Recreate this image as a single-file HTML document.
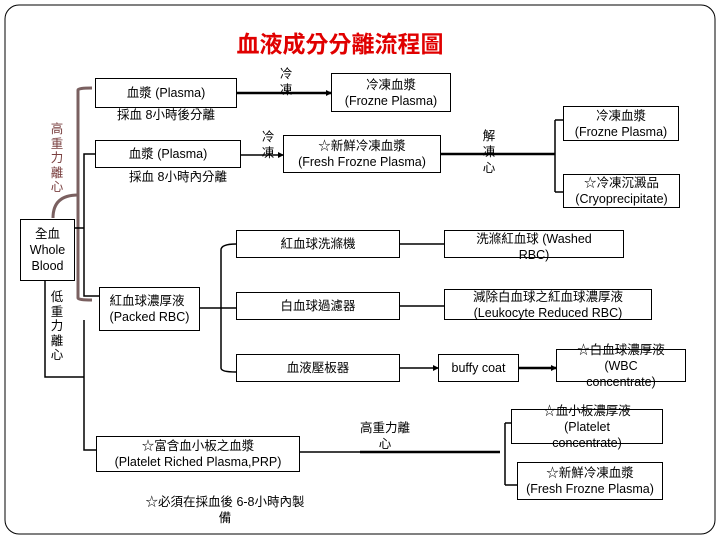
<!DOCTYPE html>
<html><head><meta charset="utf-8"><style>
body{margin:0;width:720px;height:540px;background:#fff;overflow:hidden;position:relative;font-family:"Liberation Sans","Noto Sans CJK TC",sans-serif;}
.b{position:absolute;border:1px solid #000;background:#fff;box-sizing:border-box;display:flex;align-items:center;justify-content:center;text-align:center;font-size:12.5px;line-height:16px;}
.t{position:absolute;font-size:12.5px;line-height:16px;text-align:center;}
svg{position:absolute;left:0;top:0;}
</style></head><body>
<svg width="720" height="540">
<defs><marker id="a" markerWidth="6" markerHeight="6" refX="5" refY="3" orient="auto" markerUnits="userSpaceOnUse"><path d="M0 0 L6 3 L0 6 z" fill="#000"/></marker></defs>
<rect x="5" y="5" width="710" height="529" rx="14" fill="none" stroke="#000" stroke-width="1"/>
<g fill="none" stroke="#7a6060" stroke-width="3">
<path d="M53 218 Q53 195 78 195"/>
<path d="M78 235 V90 Q78 88 92 88"/>
<path d="M78 235 V298 Q78 300 92 300"/>
</g>
<g fill="none" stroke="#000" stroke-width="1.5">
<path d="M84 228 V154 H95"/>
<path d="M84 228 V296 H99"/>
<path d="M45 281 V377 H84"/>
<path d="M84 320 V377"/>
<path d="M84 377 V450 H96"/>
<path d="M75 228 H84"/>
<path d="M200 308 H236"/>
<path d="M221 308 V250 Q221 244 236 244 M221 308 V368 Q221 372 236 372"/>
<path d="M237 93 H331" stroke-width="2.5" marker-end="url(#a)"/>
<path d="M241 155 H283" marker-end="url(#a)"/>
<path d="M441 154 H555" stroke-width="2.5"/>
<path d="M555 120 V192 M555 120 H563 M555 192 H563"/>
<path d="M400 244 H444 M400 306 H444 M400 368 H438" marker-end="url(#a)"/>
<path d="M519 368 H556" stroke-width="2.5" marker-end="url(#a)"/>
<path d="M300 452 H360"/>
<path d="M360 452 H500" stroke-width="2.5"/>
<path d="M505 423 V485 M505 423 H511 M505 485 H517"/>
</g>
</svg>
<div class="t" style="left:200px;top:30px;width:280px;color:#e00000;font-size:23px;line-height:28px;font-weight:bold;">血液成分分離流程圖</div>
<div class="b" style="left:95px;top:78px;width:142px;height:30px;">血漿 (Plasma)</div>
<div class="t" style="left:95px;top:107px;width:142px;">採血 8小時後分離</div>
<div class="t" style="left:278px;top:66px;width:16px;">冷凍</div>
<div class="b" style="left:331px;top:73px;width:120px;height:39px;">冷凍血漿<br>(Frozne Plasma)</div>
<div class="b" style="left:95px;top:140px;width:146px;height:28px;">血漿 (Plasma)</div>
<div class="t" style="left:95px;top:169px;width:166px;">採血 8小時內分離</div>
<div class="t" style="left:260px;top:129px;width:16px;">冷凍</div>
<div class="b" style="left:283px;top:135px;width:158px;height:38px;">☆新鮮冷凍血漿<br>(Fresh Frozne Plasma)</div>
<div class="t" style="left:481px;top:128px;width:16px;">解凍</div>
<div class="t" style="left:481px;top:160px;width:16px;">心</div>
<div class="b" style="left:563px;top:106px;width:116px;height:35px;">冷凍血漿<br>(Frozne Plasma)</div>
<div class="b" style="left:563px;top:174px;width:117px;height:34px;">☆冷凍沉澱品<br>(Cryoprecipitate)</div>
<div class="b" style="left:20px;top:219px;width:55px;height:62px;">全血<br>Whole<br>Blood</div>
<div class="t" style="left:50px;top:122px;width:14px;color:#7a4040;line-height:14.5px;">高重力離心</div>
<div class="t" style="left:50px;top:290px;width:14px;line-height:14.5px;">低重力離心</div>
<div class="b" style="left:99px;top:287px;width:101px;height:44px;text-align:left;">紅血球濃厚液<br>(Packed RBC)</div>
<div class="b" style="left:236px;top:230px;width:164px;height:28px;">紅血球洗滌機</div>
<div class="b" style="left:236px;top:292px;width:164px;height:28px;">白血球過濾器</div>
<div class="b" style="left:236px;top:354px;width:164px;height:28px;">血液壓板器</div>
<div class="b" style="left:444px;top:230px;width:180px;height:28px;align-items:flex-start;">洗滌紅血球 (Washed<br>RBC)</div>
<div class="b" style="left:444px;top:289px;width:208px;height:31px;">減除白血球之紅血球濃厚液<br>(Leukocyte Reduced RBC)</div>
<div class="b" style="left:438px;top:354px;width:81px;height:28px;">buffy coat</div>
<div class="b" style="left:556px;top:349px;width:130px;height:33px;overflow:visible;">☆白血球濃厚液<br>(WBC<br>concentrate)</div>
<div class="b" style="left:511px;top:409px;width:152px;height:35px;overflow:visible;">☆血小板濃厚液<br>(Platelet<br>concentrate)</div>
<div class="b" style="left:517px;top:462px;width:146px;height:38px;">☆新鮮冷凍血漿<br>(Fresh Frozne Plasma)</div>
<div class="b" style="left:96px;top:436px;width:204px;height:36px;">☆富含血小板之血漿<br>(Platelet Riched Plasma,PRP)</div>
<div class="t" style="left:350px;top:420px;width:70px;">高重力離<br>心</div>
<div class="t" style="left:120px;top:494px;width:210px;">☆必須在採血後 6-8小時內製<br>備</div>
</body></html>
